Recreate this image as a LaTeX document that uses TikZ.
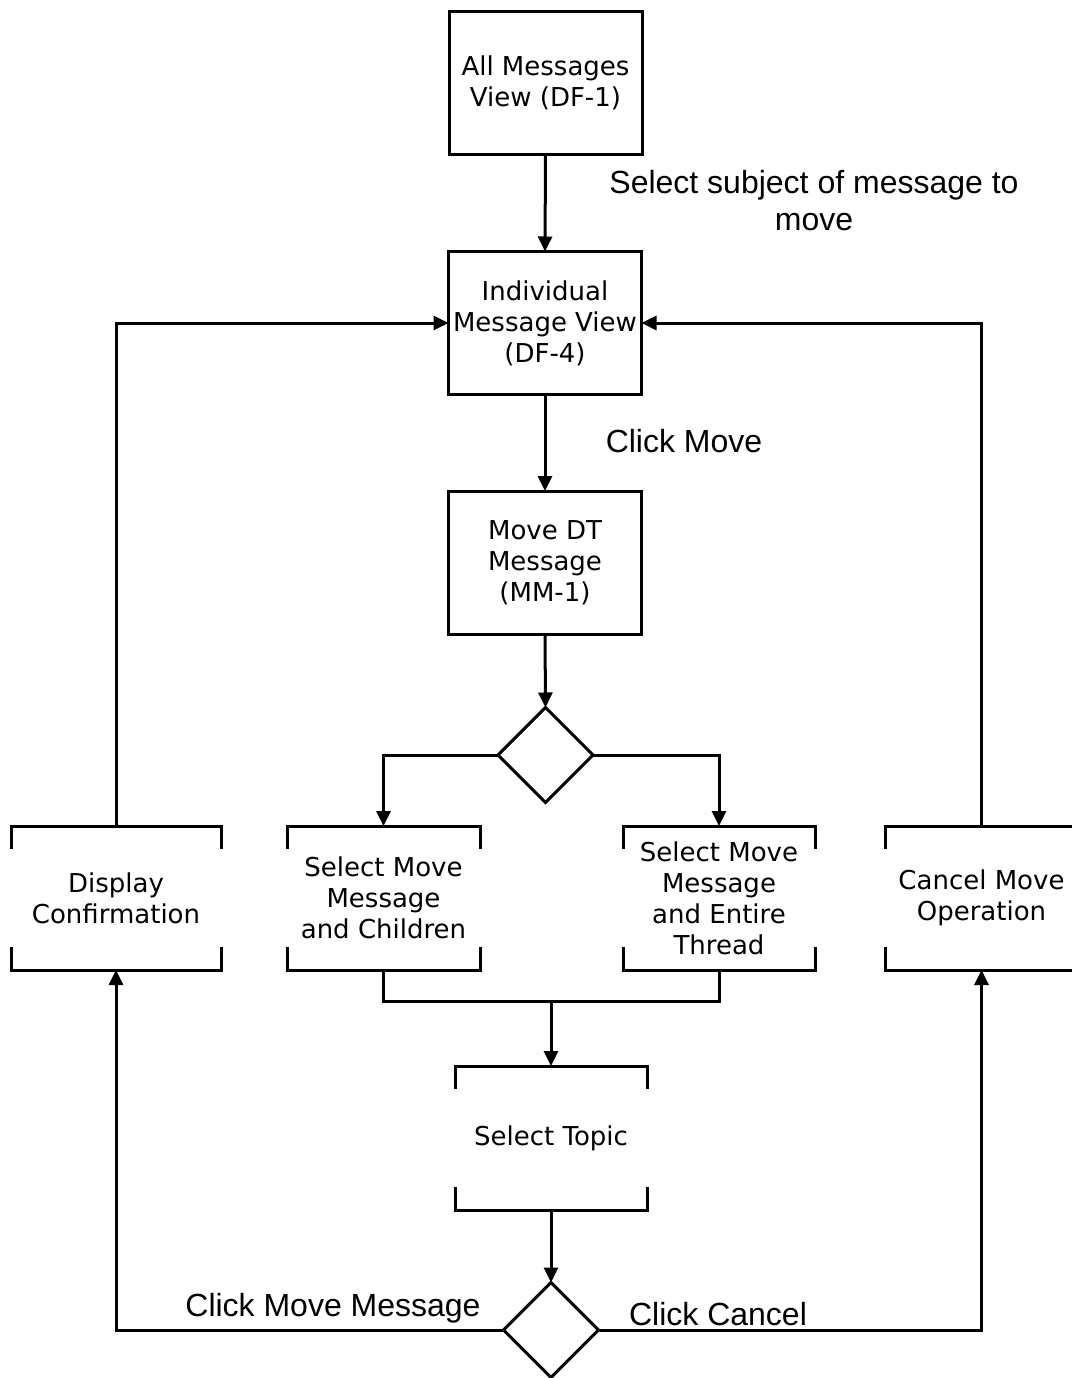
\documentclass[tikz,border=0pt]{standalone}
\usepackage{fontspec}
\setmainfont{DejaVu Sans}
\newfontfamily\labfont{Liberation Sans}
\usetikzlibrary{arrows.meta,shapes.geometric}
\begin{document}
\begin{tikzpicture}[x=1pt,y=-1pt,line width=3pt,
  every node/.style={inner sep=0pt,outer sep=0pt},
  boxtxt/.style={font=\fontsize{26}{31}\selectfont,align=center},
  rectbox/.style={boxtxt,draw,minimum width=193pt,minimum height=143pt},
  bracketbox/.style={boxtxt,minimum height=144pt},
  decision/.style={diamond,draw,minimum width=95pt,minimum height=95pt,aspect=1},
  lab/.style={font=\labfont\fontsize{32}{37}\selectfont,align=center},
  arr/.style={-{Triangle[length=15pt,width=14pt]}}]
\useasboundingbox (0,0) rectangle (1071,1378);

\node[rectbox] (b1) at (545.5,83) {All Messages\\View (DF-1)};
\node[rectbox] (b2) at (545,323) {Individual\\Message View\\(DF-4)};
\node[rectbox] (b3) at (545,562.5) {Move DT\\Message\\(MM-1)};
\node[decision] (d1) at (545.5,755) {};
\node[bracketbox,minimum width=210pt] (dc) at (116,898) {Display\\Confirmation};
\node[bracketbox,minimum width=193pt] (smc) at (383.5,898) {Select Move\\Message\\and Children};
\node[bracketbox,minimum width=192pt] (sme) at (719,898) {Select Move\\Message\\and Entire\\Thread};
\node[bracketbox,minimum width=193pt] (cmo) at (981.5,898) {Cancel Move\\Operation};
\node[bracketbox,minimum width=192pt] (st) at (551,1138) {Select Topic};
\node[decision] (d2) at (551,1330) {};

\node[lab] (l1) at (814,201) {Select subject of message to\\move};
\node[lab] (l2) at (684,441) {Click Move};
\node[lab] (l3) at (333,1308) {Click Move Message};
\node[lab] (l4) at (718,1314) {Click Cancel};

\foreach \n in {dc,smc,sme,cmo,st}{
  \draw ([yshift=-23pt]\n.north west) -- (\n.north west) -- (\n.north east) -- ([yshift=-23pt]\n.north east);
  \draw ([yshift=23pt]\n.south west) -- (\n.south west) -- (\n.south east) -- ([yshift=23pt]\n.south east);
}

\draw[arr] (b1.south) -- (b2.north);
\draw[arr] (b2.south) -- (b3.north);
\draw[arr] (b3.south) -- (d1.north);
\draw[arr] (d1.west) -| (smc.north);
\draw[arr] (d1.east) -| (sme.north);
\coordinate (m) at (551,1001);
\draw (smc.south) |- (m) -| (sme.south);
\draw[arr] (m) -- (st.north);
\draw[arr] (st.south) -- (d2.north);
\draw[arr] (d2.west) -| (dc.south);
\draw[arr] (d2.east) -| (cmo.south);
\draw[arr] (dc.north) |- (b2.west);
\draw[arr] (cmo.north) |- (b2.east);
\end{tikzpicture}
\end{document}
